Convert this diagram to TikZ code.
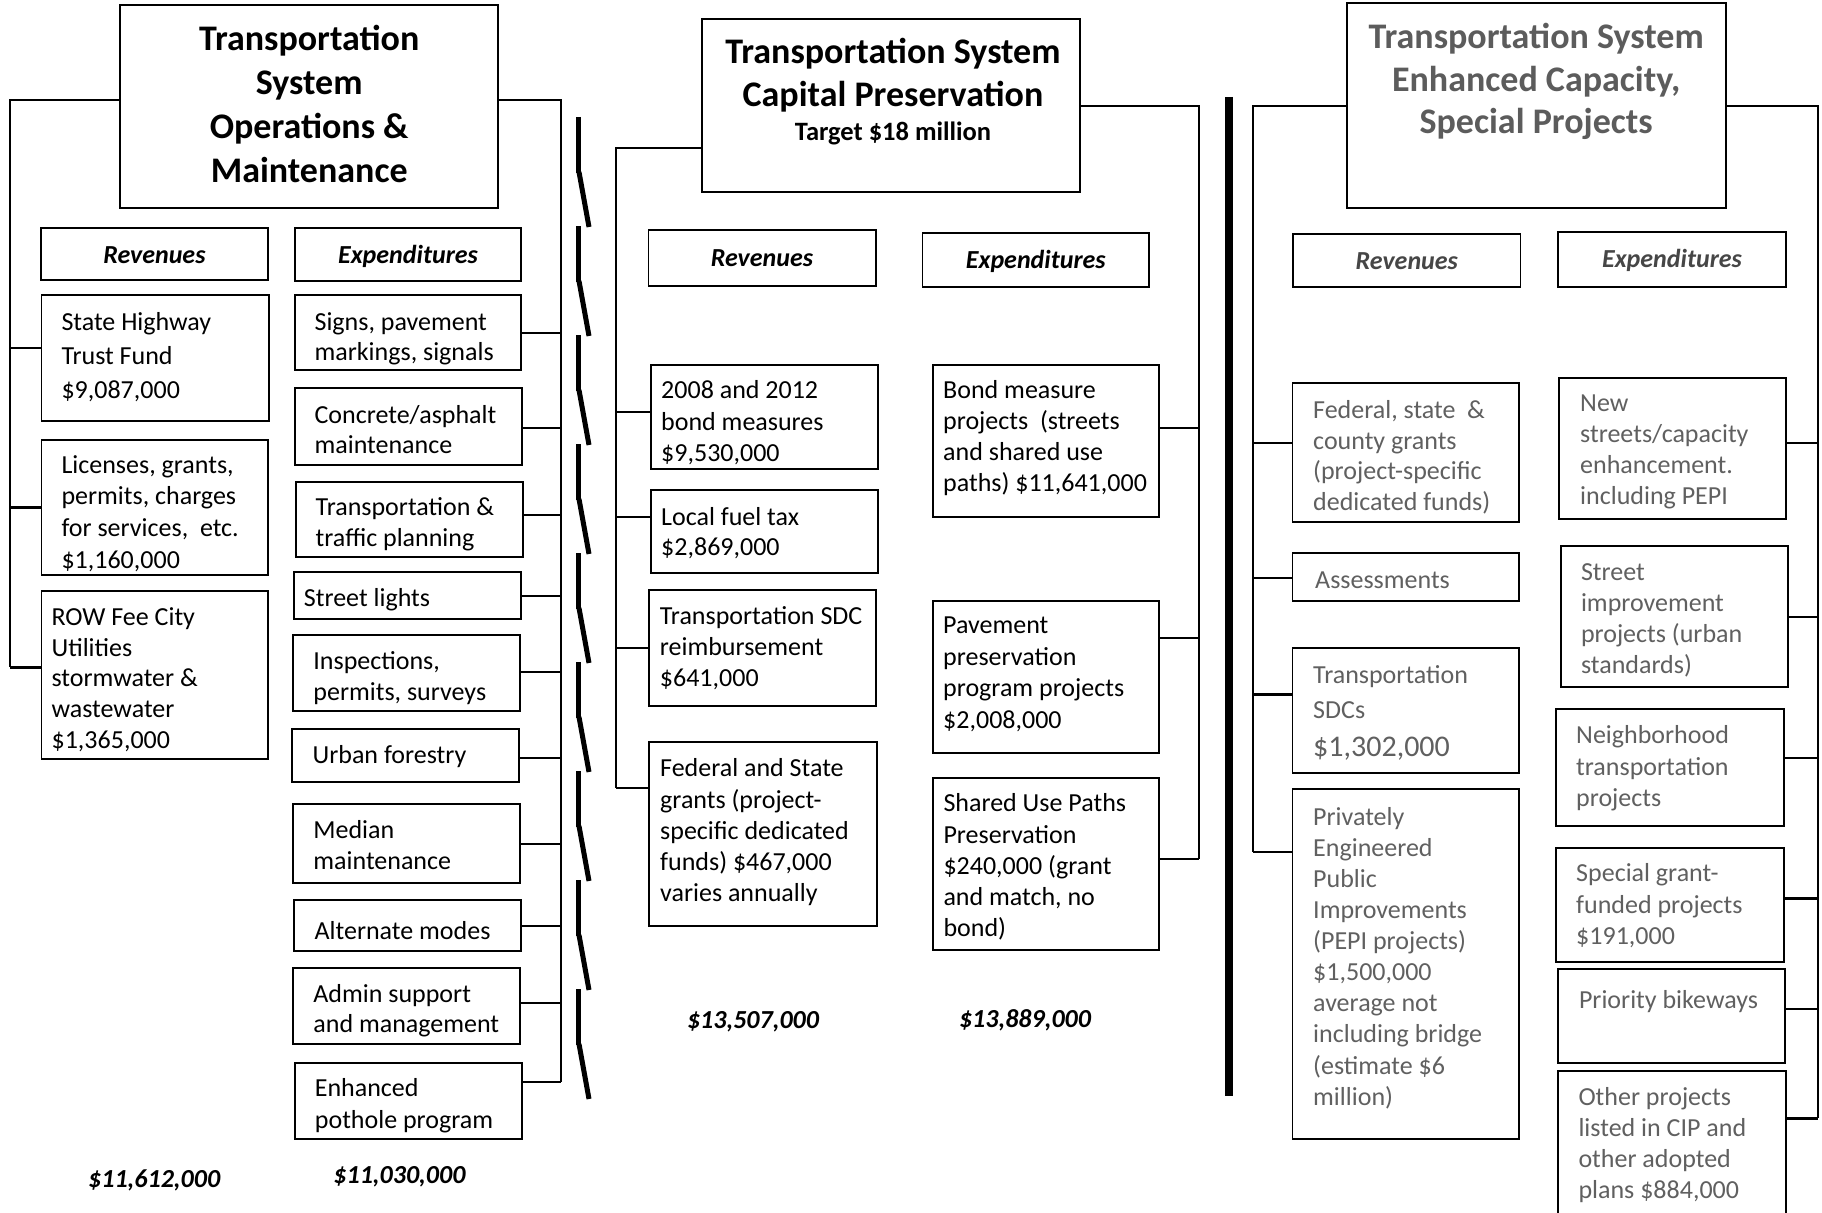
\documentclass[tikz,border=0pt]{standalone}
\usepackage{fontspec}
\setmainfont{Carlito}
\definecolor{gtx}{RGB}{96,96,96}
\definecolor{gtt}{RGB}{92,92,92}
\definecolor{ghd}{RGB}{70,70,70}
\tikzset{
  box/.style={draw=black, line width=1.8pt, inner sep=0pt, fill=white},
  con/.style={line width=2pt},
  conb/.style={line width=3pt},
  zigline/.style={line width=5pt},
  txt/.style={inner sep=0pt, align=left, anchor=north west},
  bd/.style={font=\fontsize{26}{#1}\selectfont},
  gd/.style={font=\fontsize{26}{#1}\selectfont, text=gtx},
  gbig/.style={font=\fontsize{30}{#1}\selectfont, text=gtx},
  ttl/.style={font=\fontsize{36}{#1}\selectfont\bfseries},
  ttlg/.style={font=\fontsize{36}{#1}\selectfont\bfseries, text=gtt},
  tgt/.style={font=\fontsize{26.5}{#1}\selectfont\bfseries},
  hdr/.style={font=\fontsize{26}{#1}\selectfont\bfseries\itshape},
  hdrg/.style={font=\fontsize{26}{#1}\selectfont\bfseries\itshape, text=ghd},
  tot/.style={font=\fontsize{26}{#1}\selectfont\bfseries\itshape},
}
% box: name, x1, y1, x2, y2
\newcommand\bx[5]{\node[box, minimum width={(#4-#2)*1pt}, minimum height={(#5-#3)*1pt}] (#1) at ({(#2+#4)/2},{(#3+#5)/2}) {};}
% left text: name, x, first baseline, baselineskip, style, text
\newcommand\tl[6]{\node[txt, #5={#4}] (#1) at (#2,{#3-0.7*#4}) {\strut #6};}
% centred text
\newcommand\tcn[6]{\node[inner sep=0pt, align=center, anchor=north, #5={#4}] (#1) at (#2,{#3-0.7*#4}) {\strut #6};}
% connectors to bus: box, bus coordinate, yshift, style
\newcommand\cw[4]{\draw[#4] ([yshift=#3pt]#1.west) -- ([yshift=#3pt]#1.west -| #2);}
\newcommand\ce[4]{\draw[#4] ([yshift=#3pt]#1.east) -- ([yshift=#3pt]#1.east -| #2);}

\begin{document}
\begin{tikzpicture}[x=1pt,y=-1pt]
\useasboundingbox (0,0) rectangle (1822,1212);
\clip (0,0) rectangle (1822,1212);

% ---------------- bus coordinates
\coordinate (b1L) at (9.9,667);
\coordinate (b1R) at (560.7,1082);
\coordinate (b2L) at (615.7,788);
\coordinate (b2R) at (1198.5,859);
\coordinate (b3L) at (1253,852);
\coordinate (b3R) at (1818,1118);

% ---------------- panel 1
\bx{T1}{119.8}{5}{498.2}{208}
\tcn{T1t}{309.2}{50}{44}{ttl}{Transportation\\System\\Operations \&\\Maintenance}
\bx{H1r}{40.7}{228}{268.1}{280}
\tcn{H1rt}{154.4}{263}{29}{hdr}{Revenues}
\bx{H1e}{294.6}{228}{521.2}{281}
\tcn{H1et}{408}{263}{29}{hdr}{Expenditures}

\bx{S1}{41.5}{295}{268.9}{421}
\tl{S1t}{61.3}{330}{34}{bd}{State Highway\\Trust Fund\\\$9,087,000}
\bx{L1}{41.5}{440}{268.1}{575}
\tl{L1t}{61.3}{473}{31.6}{bd}{Licenses, grants,\\permits, charges\\for services,~ etc.\\\$1,160,000}
\bx{R1}{41.5}{591}{268.1}{759}
\tl{R1t}{51.4}{625}{30.8}{bd}{ROW Fee City\\Utilities\\stormwater \&\\wastewater\\\$1,365,000}

\bx{E1}{294.6}{295}{521.2}{370}
\tl{E1t}{314.4}{330}{30}{bd}{Signs, pavement\\markings, signals}
\bx{E2}{295}{388}{522}{465}
\tl{E2t}{314.4}{423.3}{30}{bd}{Concrete/asphalt\\maintenance}
\bx{E3}{296.2}{482}{522.7}{557}
\tl{E3t}{315.5}{515}{31.7}{bd}{Transportation \&\\traffic planning}
\bx{E4}{293.8}{572}{521.2}{619}
\tl{E4t}{303.7}{606.7}{31}{bd}{Street lights}
\bx{E5}{292.6}{635}{520}{711}
\tl{E5t}{313.2}{669.3}{31}{bd}{Inspections,\\permits, surveys}
\bx{E6}{292.2}{729}{519.2}{782}
\tl{E6t}{312.4}{763.3}{31}{bd}{Urban forestry}
\bx{E7}{292.6}{804}{520}{883}
\tl{E7t}{313.2}{838.3}{31}{bd}{Median\\maintenance}
\bx{E8}{293.8}{900}{521.2}{951}
\tl{E8t}{314.4}{939.3}{31}{bd}{Alternate modes}
\bx{E9}{292.6}{968}{520}{1044}
\tl{E9t}{313.2}{1002.7}{30}{bd}{Admin support\\and management}
\bx{E10}{294.6}{1063}{522}{1139}
\tl{E10t}{314.7}{1096.7}{31.6}{bd}{Enhanced\\pothole program}

\tcn{Tot1r}{154.2}{1187}{31}{tot}{\$11,612,000}
\tcn{Tot1e}{399.4}{1183}{31}{tot}{\$11,030,000}

\draw[con] ([yshift=6.5pt]T1.west) -| (b1L);
\draw[con] ([yshift=6.5pt]T1.east) -| (b1R);
\cw{S1}{b1L}{10}{con}
\cw{L1}{b1L}{0}{conb}
\cw{R1}{b1L}{8}{conb}
\ce{E1}{b1R}{0}{con}
\ce{E2}{b1R}{-1.5}{con}
\ce{E3}{b1R}{4.5}{con}
\ce{E4}{b1R}{0}{con}
\ce{E5}{b1R}{1}{con}
\ce{E6}{b1R}{-2.5}{con}
\ce{E7}{b1R}{0}{con}
\ce{E8}{b1R}{0}{con}
\ce{E9}{b1R}{3}{con}
\ce{E10}{b1R}{19}{con}

% ---------------- broken divider
\foreach \k in {0,...,8}{
  \pgfmathsetmacro\ya{117+109*\k}
  \draw[zigline] (578,\ya) -- (578,{\ya+56});
  \draw[zigline] (579,{\ya+55}) -- (589,{\ya+110});
}

% ---------------- panel 2
\bx{T2}{701.8}{19}{1080.2}{192}
\tcn{T2t}{893}{63.3}{43.4}{ttl}{Transportation System\\Capital Preservation}
\tcn{T2g}{893}{140}{30}{tgt}{Target \$18 million}
\bx{H2r}{648.4}{230}{875.7}{286}
\tcn{H2rt}{762}{266}{29}{hdr}{Revenues}
\bx{H2e}{922.4}{233}{1149.2}{287}
\tcn{H2et}{1035.8}{268}{29}{hdr}{Expenditures}

\bx{R2a}{650.9}{365}{877.8}{469}
\tl{R2at}{661}{398.3}{31.7}{bd}{2008 and 2012\\bond measures\\\$9,530,000}
\bx{R2b}{650.9}{490}{877.8}{573}
\tl{R2bt}{661}{525}{30}{bd}{Local fuel tax\\\$2,869,000}
\bx{R2c}{648.8}{590}{875.7}{706}
\tl{R2ct}{659.7}{624}{31}{bd}{Transportation SDC\\reimbursement\\\$641,000}
\bx{R2d}{649.3}{742}{876.7}{926}
\tl{R2dt}{660}{776.7}{31.2}{bd}{Federal and State\\grants (project-\\specific dedicated\\funds) \$467,000\\varies annually}

\bx{E2a}{932.9}{365}{1159.3}{517}
\tl{E2at}{943}{398.3}{31.1}{bd}{Bond measure\\projects~ (streets\\and shared use\\paths) \$11,641,000}
\bx{E2b}{932.9}{601}{1159.3}{753}
\tl{E2bt}{943}{633.3}{31.7}{bd}{Pavement\\preservation\\program projects\\\$2,008,000}
\bx{E2c}{932.7}{778}{1159.3}{950}
\tl{E2ct}{943.3}{811.7}{31.2}{bd}{Shared Use Paths\\Preservation\\\$240,000 (grant\\and match, no\\bond)}

\tcn{Tot2r}{753}{1028}{31}{tot}{\$13,507,000}
\tcn{Tot2e}{1025}{1027}{31}{tot}{\$13,889,000}

\draw[con] ([yshift=-42.5pt]T2.west) -| (b2L);
\draw[con] ([yshift=-0.5pt]T2.east) -| (b2R);
\cw{R2a}{b2L}{5}{con}
\cw{R2b}{b2L}{14.5}{con}
\cw{R2c}{b2L}{0}{con}
\cw{R2d}{b2L}{46}{con}
\ce{E2a}{b2R}{13}{con}
\ce{E2b}{b2R}{39}{con}
\ce{E2c}{b2R}{5}{con}

% ---------------- solid divider
\draw[line width=8pt] (1229,97) -- (1229,1096);

% ---------------- panel 3
\bx{T3}{1346.8}{3}{1725.6}{208}
\tcn{T3t}{1536.2}{48.3}{42.5}{ttlg}{Transportation System\\Enhanced Capacity,\\Special Projects}
\bx{H3r}{1293.2}{234}{1520.5}{287}
\tcn{H3rt}{1406.8}{269}{29}{hdrg}{Revenues}
\bx{H3e}{1558.2}{232}{1785.9}{287}
\tcn{H3et}{1672}{267.5}{29}{hdrg}{Expenditures}

\bx{R3a}{1292.4}{383}{1519.3}{522}
\tl{R3at}{1313}{418.3}{30.6}{gd}{Federal, state~ \&\\county grants\\(project-specific\\dedicated funds)}
\bx{R3b}{1292.4}{553}{1519.3}{601}
\tl{R3bt}{1315}{588.3}{31}{gd}{Assessments}
\bx{R3c}{1292.4}{648}{1519.3}{773}
\tl{R3ct}{1313}{683.3}{35}{gd}{Transportation\\SDCs}
\tl{R3cv}{1313}{756}{36}{gbig}{\$1,302,000}
\bx{R3d}{1292.4}{789}{1519.3}{1139}
\tl{R3dt}{1313}{825}{31.1}{gd}{Privately\\Engineered\\Public\\Improvements\\(PEPI projects)\\\$1,500,000\\average not\\including bridge\\(estimate \$6\\million)}

\bx{E3a}{1559}{378}{1786.3}{519}
\tl{E3at}{1580}{411.7}{31}{gd}{New\\streets/capacity\\enhancement.\\including PEPI}
\bx{E3b}{1561}{546}{1788.3}{687}
\tl{E3bt}{1580.8}{580}{31.1}{gd}{Street\\improvement\\projects (urban\\standards)}
\bx{E3c}{1556.2}{709}{1783.9}{826}
\tl{E3ct}{1576}{743.3}{31.7}{gd}{Neighborhood\\transportation\\projects}
\bx{E3d}{1556.2}{848}{1783.9}{962}
\tl{E3dt}{1576}{881.7}{31.2}{gd}{Special grant-\\funded projects\\\$191,000}
\bx{E3e}{1558.2}{969}{1785.1}{1063}
\tl{E3et}{1578.8}{1008.3}{31}{gd}{Priority bikeways}
\bx{E3f}{1558.3}{1071}{1785.7}{1226}
\tl{E3ft}{1578.3}{1105}{31}{gd}{Other projects\\listed in CIP and\\other adopted\\plans \$884,000}

\draw[con] ([yshift=-0.5pt]T3.west) -| (b3L);
\draw[con] ([yshift=-0.5pt]T3.east) -| (b3R);
\cw{R3a}{b3L}{9.5}{con}
\cw{R3b}{b3L}{-1}{con}
\cw{R3c}{b3L}{16.5}{conb}
\cw{R3d}{b3L}{112}{con}
\ce{E3a}{b3R}{5.5}{con}
\ce{E3b}{b3R}{0}{con}
\ce{E3c}{b3R}{9.5}{con}
\ce{E3d}{b3R}{7}{conb}
\ce{E3e}{b3R}{7}{con}
\ce{E3f}{b3R}{30}{conb}
\end{tikzpicture}
\end{document}
